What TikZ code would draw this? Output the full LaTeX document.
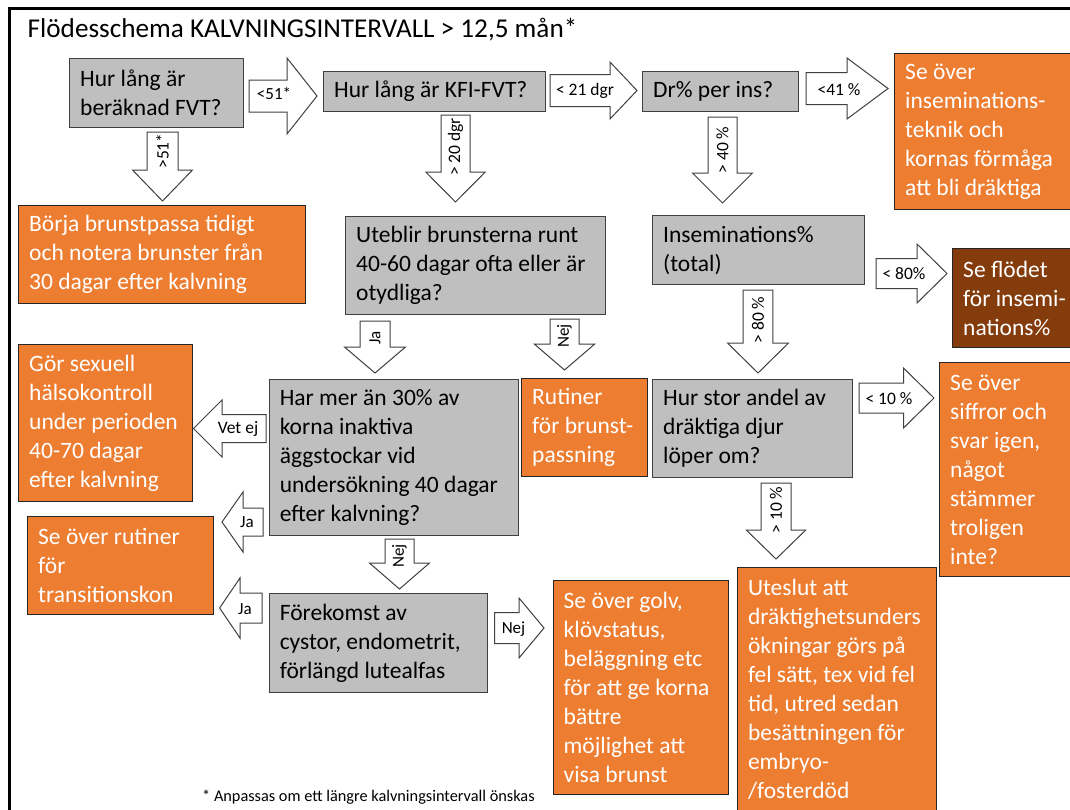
\documentclass[tikz,border=0pt]{standalone}
\usepackage{fontspec}
\setmainfont{Carlito}
\definecolor{boxgray}{HTML}{BFBFBF}
\definecolor{boxline}{HTML}{404040}
\definecolor{orng}{HTML}{ED7D31}
\definecolor{brwn}{HTML}{843C0C}
\definecolor{arrline}{HTML}{404040}
\newcommand{\hblock}[6]{% x0 x1 xtip yc bh hh
  \draw[arr] (#1,#4-#5) -- (#2,#4-#5) -- (#2,#4-#6) -- (#3,#4) -- (#2,#4+#6) -- (#2,#4+#5) -- (#1,#4+#5) -- cycle;}
\newcommand{\vblock}[6]{% xc bw hw y0 y1 ytip
  \draw[arr] (#1-#2,#4) -- (#1-#2,#5) -- (#1-#3,#5) -- (#1,#6) -- (#1+#3,#5) -- (#1+#2,#5) -- (#1+#2,#4) -- cycle;}
\newcommand{\tbox}[7]{% style name x y w h text
  \node[#1, minimum width=#5, minimum height=#6, anchor=north west] (#2) at (#3,#4) {};
  \node[#1txt, anchor=west] (#2t) at ([xshift=11pt]#2.west) {#7};}
\tikzset{
  box/.style={rectangle, line width=1.2pt, inner sep=0pt},
  gbox/.style={box, fill=boxgray, draw=boxline},
  obox/.style={box, fill=orng, draw=black!85},
  bbox/.style={box, fill=brwn, draw=black!85},
  btxt/.style={inner sep=0pt, align=left, font=\fontsize{23.5}{29}\selectfont},
  gboxtxt/.style={btxt, text=black},
  oboxtxt/.style={btxt, text=white},
  bboxtxt/.style={btxt, text=white},
  arr/.style={draw=arrline, fill=white, line width=1pt, line join=miter},
  lbl/.style={font=\fontsize{17.5}{20}\selectfont, inner sep=0pt, text=black},
  slbl/.style={font=\fontsize{17}{19}\selectfont, inner sep=0pt, text=black},
}
\begin{document}
\begin{tikzpicture}[x=1pt,y=-1pt]
\clip (0,0) rectangle (1070,809);
\fill[white] (0,0) rectangle (1070,809);
% frame
\draw[line width=2.6pt, black] (9.3,815) -- (9.3,8.3) -- (1080,8.3);
% title
\node[anchor=base west, inner sep=0pt, font=\fontsize{27.2}{32}\selectfont] (title) at (27.5,37)
  {Flödesschema KALVNINGSINTERVALL > 12,5 mån*};
% boxes
\tbox{gbox}{b1}{69}{58}{174}{69}{Hur lång är\\beräknad FVT?}
\tbox{gbox}{b2}{323}{71}{222}{40}{Hur lång är KFI-FVT?}
\tbox{gbox}{b3}{642}{71}{156}{40}{Dr\% per ins?}
\tbox{obox}{b4}{894}{53}{190}{156}{Se över\\inseminations-\\teknik och\\kornas förmåga\\att bli dräktiga}
\tbox{obox}{b5}{18}{205}{287}{98}{Börja brunstpassa tidigt\\och notera brunster från\\30 dagar efter kalvning}
\tbox{gbox}{b6}{345}{216}{260}{98}{Uteblir brunsterna runt\\40-60 dagar ofta eller är\\otydliga?}
\tbox{gbox}{b7}{652}{215}{211.5}{69}{Inseminations\%\\(total)}
\tbox{bbox}{b8}{952}{248}{130}{99}{Se flödet\\för insemi-\\nations\%}
\tbox{obox}{b9}{18}{344}{174}{157}{Gör sexuell\\hälsokontroll\\under perioden\\40-70 dagar\\efter kalvning}
\tbox{gbox}{b10}{268.6}{379}{249}{156}{Har mer än 30\% av\\korna inaktiva\\äggstockar vid\\undersökning 40 dagar\\efter kalvning?}
\tbox{obox}{brut}{521}{378}{126}{98}{Rutiner\\för brunst-\\passning}
\tbox{gbox}{b11}{652}{379}{199.5}{98}{Hur stor andel av\\dräktiga djur\\löper om?}
\tbox{obox}{b12}{939}{362}{141}{214}{Se över\\siffror och\\svar igen,\\något\\stämmer\\troligen\\inte?}
\tbox{obox}{b13}{736.8}{567}{198.7}{243}{Uteslut att\\dräktighetsunders\\ökningar görs på\\fel sätt, tex vid fel\\tid, utred sedan\\besättningen för\\embryo-\\/fosterdöd}
\tbox{obox}{b14}{27}{516}{185.5}{98}{Se över rutiner\\för\\transitionskon}
\tbox{gbox}{b15}{268.6}{593}{218.4}{99}{Förekomst av\\cystor, endometrit,\\förlängd lutealfas}
\tbox{obox}{b16}{552.5}{580}{175}{214}{Se över golv,\\klövstatus,\\beläggning etc\\för att ge korna\\bättre\\möjlighet att\\visa brunst}
% block arrows
\hblock{249}{287}{317}{96}{16}{38}
\hblock{550}{610}{637}{90.5}{16}{28.5}
\hblock{806}{847}{888}{88.5}{16}{30.5}
\vblock{162.5}{15.5}{30}{132}{170}{201}
\vblock{455.5}{14.5}{29.75}{115}{172}{202}
\vblock{722.5}{14.5}{30}{117}{173}{203}
\hblock{876}{917}{947}{273.5}{15}{29.5}
\vblock{375}{15}{30.5}{321}{347}{373}
\vblock{564.5}{14.5}{30.25}{319}{344}{370}
\vblock{758}{14.8}{30.5}{290}{343}{373}
\hblock{266}{222}{193.5}{428.5}{14}{28.5}
\hblock{859}{903.5}{934}{398}{15}{30}
\vblock{776}{15}{29.75}{483}{530}{559}
\hblock{263}{243}{222}{522}{14}{30}
\hblock{262}{240}{219.6}{608}{15}{30}
\vblock{399.5}{14.5}{30}{539}{563}{589}
\hblock{494.6}{519}{544}{628}{15.5}{30}
% arrow labels
\node[slbl] (l1) at (274,94) {<51*};
\node[lbl] (l2) at (585,91) {< 21 dgr};
\node[lbl] (l3) at (839,90) {<41 \%};
\node[lbl, rotate=90] (l4) at (162.5,151) {>51*};
\node[lbl, rotate=90] (l5) at (455.5,147) {> 20 dgr};
\node[lbl, rotate=90] (l6) at (722.5,150) {> 40 \%};
\node[lbl] (l7) at (904,274) {< 80\%};
\node[slbl, rotate=90] (l8) at (375,338) {Ja};
\node[slbl, rotate=90] (l9) at (564.5,336) {Nej};
\node[lbl, rotate=90] (l10) at (758,320) {> 80 \%};
\node[lbl] (l11) at (238,429) {Vet ej};
\node[lbl] (l12) at (889,399) {< 10 \%};
\node[lbl, rotate=90] (l13) at (776,510) {> 10 \%};
\node[slbl] (l14) at (247,522) {Ja};
\node[slbl] (l15) at (245,609) {Ja};
\node[slbl, rotate=90] (l16) at (399.5,556) {Nej};
\node[slbl] (l17) at (513.5,629) {Nej};
% footnote
\node[anchor=base west, inner sep=0pt, font=\fontsize{16.3}{19}\selectfont] (foot) at (202,801)
  {* Anpassas om ett längre kalvningsintervall önskas};
\end{tikzpicture}
\end{document}
